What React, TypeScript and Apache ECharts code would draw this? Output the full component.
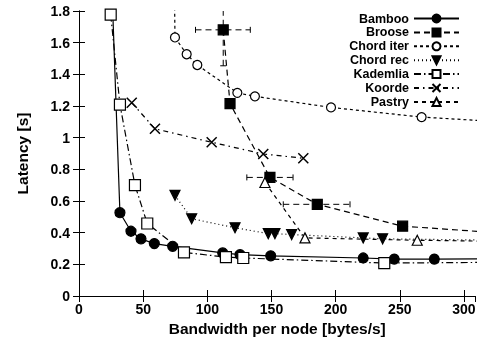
import React, { useEffect, useRef } from "react";
import * as echarts from "echarts";

const seriesNames = ["Bamboo", "Broose", "Chord iter", "Chord rec", "Kademlia", "Koorde", "Pastry"];

const bambooX = [25.4, 31.9, 40.5, 48.3, 58.7, 73.0, 112.0, 125.5, 149.4, 221.5, 245.7, 276.9, 350];
const bambooY = [2.0, 0.526, 0.409, 0.361, 0.331, 0.314, 0.272, 0.261, 0.254, 0.240, 0.233, 0.233, 0.235];

const brooseX = [112.4, 117.7, 148.8, 185.7, 252.2, 350];
const brooseY = [1.681, 1.215, 0.749, 0.579, 0.441, 0.386];
// error bars: [x, y, xLow, xHigh, yLow, yHigh]
const brooseErr = [
  [112.4, 1.681, 90.8, 133.5, 1.454, 1.908],
  [148.8, 0.749, 130.8, 166.8, 0.749, 0.749],
  [185.7, 0.579, 159.2, 211.2, 0.579, 0.579],
];

const chordIterX = [74.0, 74.8, 83.9, 92.2, 123.4, 137.1, 196.4, 267.0, 350];
const chordIterY = [2.2, 1.633, 1.527, 1.459, 1.283, 1.261, 1.191, 1.130, 1.09];

const chordRecX = [74.8, 87.8, 121.6, 147.5, 152.7, 165.7, 221.5, 236.6, 350];
const chordRecY = [0.636, 0.488, 0.431, 0.394, 0.394, 0.388, 0.367, 0.361, 0.35];

const kademliaX = [24.7, 31.9, 43.6, 53.2, 81.8, 114.5, 128.0, 237.9, 350];
const kademliaY = [1.777, 1.209, 0.700, 0.458, 0.275, 0.246, 0.240, 0.208, 0.214];

const koordeX = [41.1, 59.2, 103.4, 143.6, 174.8];
const koordeY = [1.221, 1.056, 0.971, 0.897, 0.870];

const pastryX = [144.9, 176.1, 263.6, 350];
const pastryY = [0.717, 0.367, 0.352, 0.343];

const xTickValues = [0, 50, 100, 150, 200, 250, 300];

const FONT = "'Liberation Sans', Arial, Helvetica, sans-serif";
const zip = (xs: number[], ys: number[]) => xs.map((x, i) => [x, ys[i]]);

export default function App() {
  const ref = useRef<HTMLDivElement>(null);
  useEffect(() => {
    if (!ref.current) return;
    const chart = echarts.init(ref.current, null, { renderer: "svg" });
    const black = "#000";
    const lineBase = (type: any) => ({ color: black, width: 1.2, type });
    const mk = (name: string, xs: number[], ys: number[], symbol: string, size: number, fill: string, dash: any, extra: any = {}) => ({
      name,
      type: "line",
      data: zip(xs, ys),
      symbol,
      symbolSize: size,
      showSymbol: true,
      clip: true,
      lineStyle: lineBase(dash),
      itemStyle: { color: fill, borderColor: black, borderWidth: 1.2 },
      emphasis: { disabled: true },
      z: 3,
      ...extra,
    });
    const xPath = "path://M0,0L10,10M10,0L0,10";
    const option: any = {
      animation: false,
      textStyle: { fontFamily: FONT },
      grid: { left: 79, right: 5.5, top: 11, bottom: 44, containLabel: false, outerBoundsMode: "none" },
      legend: {
        data: seriesNames,
        orient: "vertical",
        align: "right",
        right: 21,
        top: 12,
        padding: 0,
        itemWidth: 45,
        itemHeight: 10,
        itemGap: 0.9,
        textStyle: { fontFamily: FONT, fontWeight: "bold", fontSize: 12.5, color: black, lineHeight: 13 },
      },
      xAxis: [
        {
          type: "value", min: 0, max: 309, interval: 50, position: "bottom",
          name: "Bandwidth per node [bytes/s]", nameLocation: "middle", nameGap: 22,
          nameTextStyle: { fontFamily: FONT, fontWeight: "bold", fontSize: 15.5, color: black },
          axisLine: { show: true, lineStyle: { color: black, width: 1 } },
          axisTick: { inside: true, length: 6, lineStyle: { color: black } },
          axisLabel: {
            fontFamily: FONT, fontWeight: "bold", fontSize: 14, color: black, margin: 6, showMaxLabel: false,
            formatter: (v: number) => (xTickValues.includes(v) ? String(v) : ""),
          },
          splitLine: { show: false },
        },
        {
          type: "value", min: 0, max: 309, interval: 50, position: "top",
          axisLine: { show: true, lineStyle: { color: black, width: 1 } },
          axisTick: { inside: true, length: 6, lineStyle: { color: black } },
          axisLabel: { show: false }, splitLine: { show: false },
        },
      ],
      yAxis: [
        {
          type: "value", min: 0, max: 1.8, interval: 0.2, position: "left",
          name: "Latency [s]", nameLocation: "middle", nameGap: 49,
          nameTextStyle: { fontFamily: FONT, fontWeight: "bold", fontSize: 15.5, color: black },
          axisLine: { show: true, lineStyle: { color: black, width: 1 } },
          axisTick: { inside: true, length: 6, lineStyle: { color: black } },
          axisLabel: { fontFamily: FONT, fontWeight: "bold", fontSize: 14, color: black, margin: 9 },
          splitLine: { show: false },
        },
        {
          type: "value", min: 0, max: 1.8, interval: 0.2, position: "right",
          axisLine: { show: true, lineStyle: { color: black, width: 1 } },
          axisTick: { inside: true, length: 6, lineStyle: { color: black } },
          axisLabel: { show: false }, splitLine: { show: false },
        },
      ],
      series: [
        mk("Bamboo", bambooX, bambooY, "circle", 10, black, "solid"),
        mk("Broose", brooseX, brooseY, "rect", 10, black, [6, 4]),
        mk("Chord iter", chordIterX, chordIterY, "circle", 9, "#fff", [3, 3]),
        mk("Chord rec", chordRecX, chordRecY, "triangle", 10, black, [1, 3], { symbolRotate: 180 }),
        mk("Kademlia", kademliaX, kademliaY, "rect", 11, "#fff", [7, 3, 1.5, 3]),
        mk("Koorde", koordeX, koordeY, xPath, 10, "none", [5, 4, 1.5, 4], { itemStyle: { color: "none", borderColor: black, borderWidth: 1.5 } }),
        mk("Pastry", pastryX, pastryY, "triangle", 10, "#fff", [4, 4]),
        {
          name: "Broose err",
          type: "custom",
          clip: true,
          z: 2,
          encode: { x: [0, 2, 3], y: [1, 4, 5] },
          data: brooseErr,
          renderItem: (params: any, api: any) => {
            const x = api.value(0), y = api.value(1);
            const xl = api.value(2), xh = api.value(3), yl = api.value(4), yh = api.value(5);
            const pL = api.coord([xl, y]);
            const pH = api.coord([xh, y]);
            const style = { stroke: black, lineWidth: 1, lineDash: [6, 4], fill: null };
            const capStyle = { stroke: black, lineWidth: 1, fill: null };
            const children: any[] = [];
            if (xh > xl) {
              children.push({ type: "line", shape: { x1: pL[0], y1: pL[1], x2: pH[0], y2: pH[1] }, style });
              children.push({ type: "line", shape: { x1: pL[0], y1: pL[1] - 3, x2: pL[0], y2: pL[1] + 3 }, style: capStyle });
              children.push({ type: "line", shape: { x1: pH[0], y1: pH[1] - 3, x2: pH[0], y2: pH[1] + 3 }, style: capStyle });
            }
            if (yh > yl) {
              const qL = api.coord([x, yl]);
              const qH = api.coord([x, yh]);
              children.push({ type: "line", shape: { x1: qL[0], y1: qL[1], x2: qH[0], y2: qH[1] }, style });
              children.push({ type: "line", shape: { x1: qL[0] - 3, y1: qL[1], x2: qL[0] + 3, y2: qL[1] }, style: capStyle });
              children.push({ type: "line", shape: { x1: qH[0] - 3, y1: qH[1], x2: qH[0] + 3, y2: qH[1] }, style: capStyle });
            }
            return { type: "group", children };
          },
        },
      ],
    };
    chart.setOption(option);
    return () => chart.dispose();
  }, []);
  return <div ref={ref} style={{ position: "fixed", left: 0, top: 0, width: 481, height: 340 }} />;
}
